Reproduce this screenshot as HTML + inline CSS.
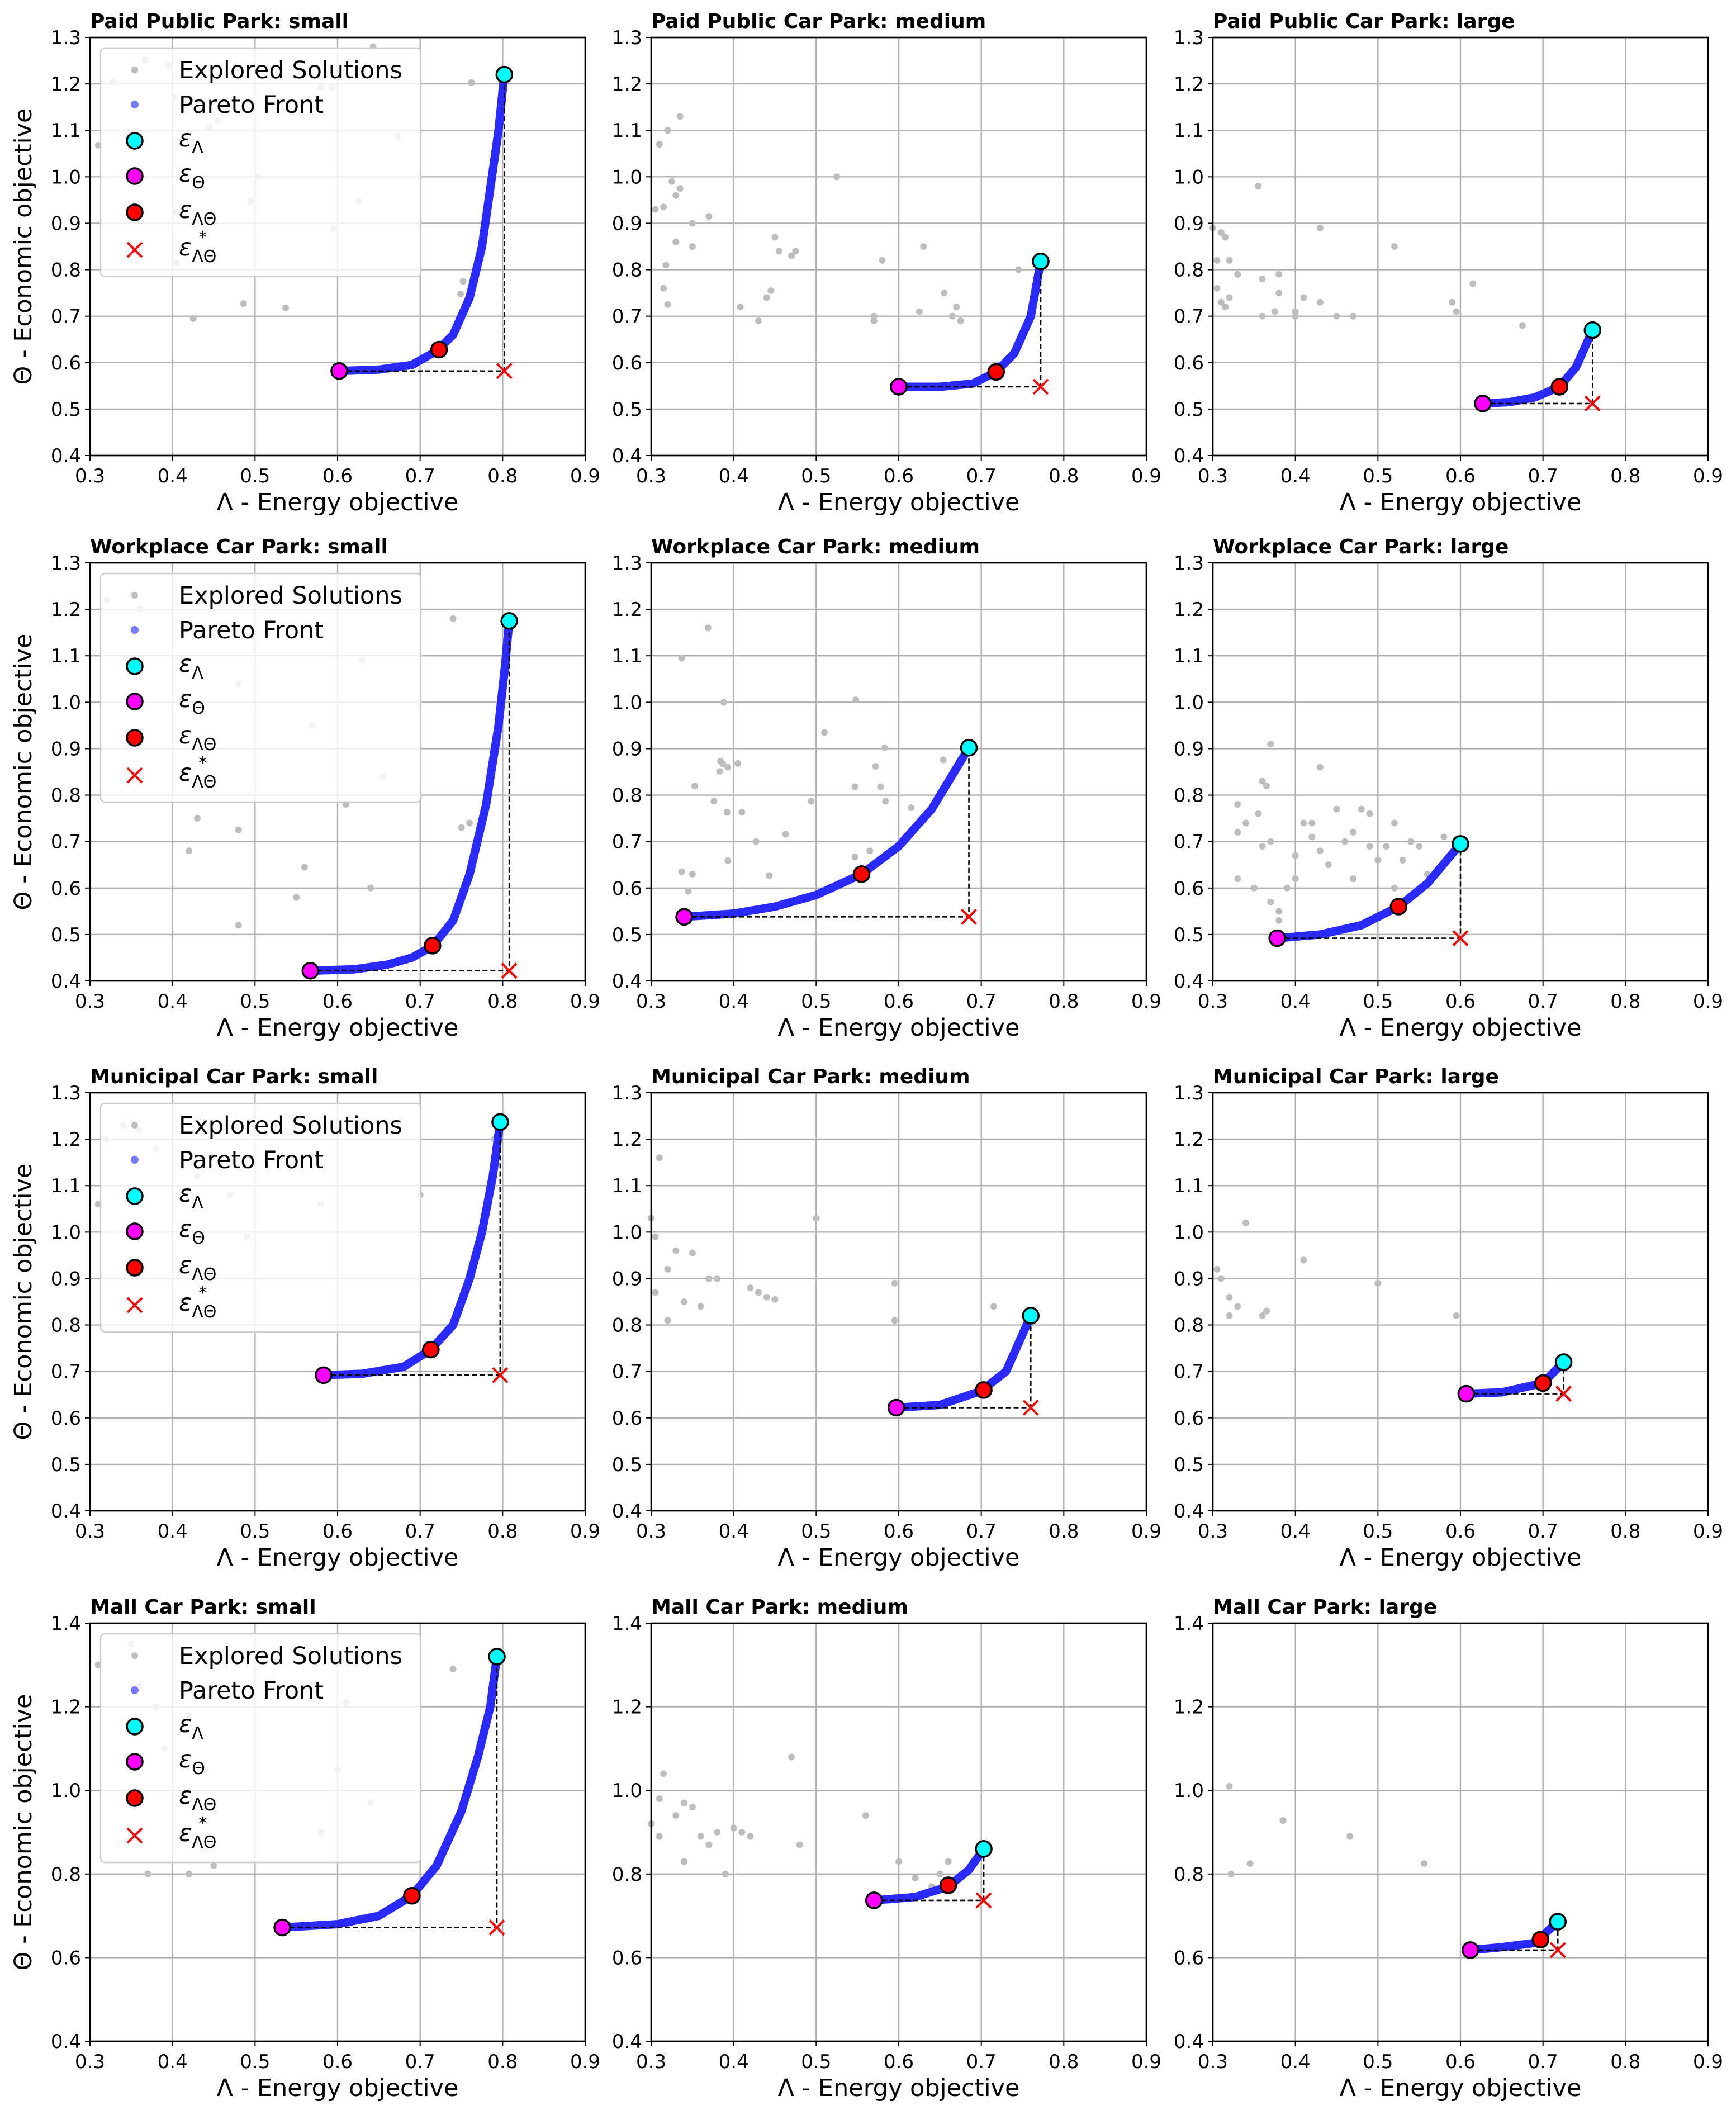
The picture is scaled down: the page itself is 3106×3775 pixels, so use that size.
<!DOCTYPE html>
<html><head><meta charset="utf-8">
<style>
html,body{margin:0;padding:0;background:#fff;}
svg{display:block;font-family:"DejaVu Sans","Liberation Sans",sans-serif;}
</style></head>
<body>
<svg id="chart" xmlns="http://www.w3.org/2000/svg" width="3106" height="3775" viewBox="0 0 3106 3775"></svg>
<script>
// ---- data ----
const titles = ["Paid Public Park: small","Paid Public Car Park: medium","Paid Public Car Park: large",
 "Workplace Car Park: small","Workplace Car Park: medium","Workplace Car Park: large",
 "Municipal Car Park: small","Municipal Car Park: medium","Municipal Car Park: large",
 "Mall Car Park: small","Mall Car Park: medium","Mall Car Park: large"];
const yMaxes = [1.3,1.3,1.3,1.3,1.3,1.3,1.3,1.3,1.3,1.4,1.4,1.4];
const xTicks = [0.3,0.4,0.5,0.6,0.7,0.8,0.9];
const yTicksA = [0.4,0.5,0.6,0.7,0.8,0.9,1.0,1.1,1.2,1.3];
const yTicksB = [0.4,0.6,0.8,1.0,1.2,1.4];
const fronts = [
 [[0.602,0.582],[0.65,0.585],[0.69,0.595],[0.72,0.625],[0.74,0.66],[0.76,0.74],[0.775,0.85],[0.787,1.0],[0.795,1.1],[0.802,1.22]],
 [[0.60,0.548],[0.65,0.548],[0.69,0.555],[0.718,0.58],[0.74,0.62],[0.76,0.70],[0.772,0.818]],
 [[0.627,0.512],[0.66,0.515],[0.69,0.525],[0.72,0.548],[0.74,0.59],[0.76,0.67]],
 [[0.567,0.422],[0.62,0.425],[0.66,0.435],[0.69,0.45],[0.715,0.475],[0.74,0.53],[0.76,0.63],[0.78,0.78],[0.795,0.95],[0.803,1.08],[0.808,1.175]],
 [[0.34,0.538],[0.40,0.545],[0.45,0.56],[0.50,0.585],[0.555,0.63],[0.60,0.69],[0.64,0.77],[0.685,0.902]],
 [[0.378,0.492],[0.43,0.50],[0.48,0.52],[0.525,0.56],[0.56,0.61],[0.60,0.695]],
 [[0.583,0.692],[0.63,0.695],[0.68,0.71],[0.713,0.747],[0.74,0.80],[0.76,0.90],[0.775,1.0],[0.788,1.12],[0.797,1.237]],
 [[0.597,0.622],[0.65,0.628],[0.70,0.658],[0.73,0.70],[0.76,0.82]],
 [[0.607,0.652],[0.65,0.655],[0.70,0.675],[0.725,0.72]],
 [[0.533,0.672],[0.60,0.68],[0.65,0.70],[0.69,0.748],[0.72,0.82],[0.75,0.95],[0.77,1.08],[0.785,1.2],[0.793,1.32]],
 [[0.57,0.737],[0.62,0.745],[0.66,0.77],[0.685,0.81],[0.703,0.86]],
 [[0.612,0.618],[0.65,0.625],[0.69,0.635],[0.718,0.686]]
];
const balanced = [[0.723,0.628],[0.718,0.58],[0.72,0.548],[0.715,0.476],[0.555,0.63],[0.525,0.56],[0.713,0.747],[0.703,0.66],[0.70,0.675],[0.69,0.748],[0.66,0.773],[0.697,0.643]];
const explored = [
 [[0.31,1.068],[0.328,1.205],[0.355,1.228],[0.367,1.252],[0.395,1.24],[0.403,1.17],[0.454,1.122],[0.445,1.105],[0.405,0.925],[0.405,0.815],[0.425,0.695],[0.486,0.727],[0.495,0.947],[0.503,1.0],[0.537,0.718],[0.58,1.193],[0.593,1.193],[0.595,0.888],[0.626,0.947],[0.643,1.28],[0.673,1.088],[0.762,1.203],[0.752,0.775],[0.749,0.748]],
 [[0.31,1.07],[0.32,1.10],[0.335,1.13],[0.305,0.93],[0.315,0.935],[0.325,0.99],[0.33,0.96],[0.335,0.975],[0.318,0.81],[0.315,0.76],[0.32,0.725],[0.33,0.86],[0.35,0.85],[0.35,0.9],[0.37,0.915],[0.408,0.72],[0.43,0.69],[0.44,0.74],[0.445,0.755],[0.45,0.87],[0.455,0.84],[0.47,0.83],[0.475,0.84],[0.525,1.0],[0.58,0.82],[0.57,0.69],[0.57,0.70],[0.63,0.85],[0.625,0.71],[0.655,0.75],[0.665,0.70],[0.675,0.69],[0.67,0.72],[0.745,0.80]],
 [[0.30,0.89],[0.31,0.88],[0.315,0.87],[0.32,0.82],[0.305,0.82],[0.305,0.76],[0.31,0.73],[0.315,0.72],[0.32,0.74],[0.33,0.79],[0.355,0.98],[0.36,0.78],[0.36,0.70],[0.375,0.71],[0.38,0.75],[0.38,0.79],[0.40,0.71],[0.40,0.70],[0.41,0.74],[0.43,0.89],[0.43,0.73],[0.45,0.70],[0.47,0.70],[0.52,0.85],[0.59,0.73],[0.595,0.71],[0.615,0.77],[0.675,0.68]],
 [[0.32,1.22],[0.36,1.20],[0.35,1.23],[0.42,0.68],[0.43,0.75],[0.48,0.725],[0.48,0.52],[0.48,1.04],[0.55,0.58],[0.56,0.645],[0.57,0.95],[0.61,0.78],[0.63,1.09],[0.64,0.60],[0.655,0.84],[0.74,1.18],[0.75,0.73],[0.76,0.74]],
 [[0.337,1.095],[0.369,1.16],[0.337,0.635],[0.353,0.82],[0.376,0.787],[0.384,0.873],[0.387,0.867],[0.383,0.851],[0.388,1.0],[0.393,0.659],[0.392,0.763],[0.393,0.86],[0.405,0.868],[0.41,0.763],[0.427,0.70],[0.443,0.627],[0.463,0.716],[0.35,0.63],[0.345,0.593],[0.494,0.787],[0.51,0.935],[0.548,1.005],[0.547,0.818],[0.547,0.667],[0.565,0.68],[0.572,0.862],[0.578,0.818],[0.583,0.902],[0.584,0.787],[0.615,0.773],[0.654,0.876]],
 [[0.33,0.78],[0.33,0.72],[0.33,0.62],[0.34,0.74],[0.35,0.60],[0.355,0.76],[0.36,0.83],[0.365,0.82],[0.37,0.91],[0.36,0.69],[0.37,0.70],[0.37,0.57],[0.38,0.55],[0.38,0.53],[0.39,0.60],[0.40,0.62],[0.40,0.67],[0.41,0.74],[0.42,0.74],[0.42,0.71],[0.43,0.86],[0.43,0.68],[0.44,0.65],[0.45,0.77],[0.46,0.70],[0.47,0.72],[0.47,0.62],[0.48,0.77],[0.49,0.76],[0.49,0.69],[0.50,0.66],[0.51,0.69],[0.52,0.60],[0.52,0.74],[0.53,0.66],[0.54,0.70],[0.55,0.69],[0.56,0.63],[0.58,0.71]],
 [[0.31,1.06],[0.32,1.20],[0.34,1.23],[0.36,1.22],[0.38,1.18],[0.43,1.12],[0.47,1.08],[0.49,0.99],[0.58,1.06],[0.70,1.08],[0.79,1.20]],
 [[0.30,1.03],[0.305,0.99],[0.31,1.16],[0.305,0.87],[0.32,0.92],[0.33,0.96],[0.34,0.85],[0.35,0.955],[0.36,0.84],[0.37,0.90],[0.38,0.90],[0.42,0.88],[0.43,0.87],[0.44,0.86],[0.45,0.855],[0.50,1.03],[0.595,0.89],[0.595,0.81],[0.715,0.84],[0.32,0.81]],
 [[0.305,0.92],[0.31,0.90],[0.32,0.86],[0.32,0.82],[0.33,0.84],[0.34,1.02],[0.36,0.82],[0.365,0.83],[0.41,0.94],[0.50,0.89],[0.595,0.82]],
 [[0.31,1.30],[0.35,1.35],[0.36,1.25],[0.38,1.20],[0.39,1.10],[0.42,1.18],[0.44,1.05],[0.45,0.95],[0.37,0.80],[0.42,0.80],[0.45,0.82],[0.58,0.90],[0.61,1.21],[0.64,0.97],[0.72,0.83],[0.74,1.29],[0.60,1.05]],
 [[0.30,0.92],[0.31,0.98],[0.315,1.04],[0.31,0.89],[0.33,0.94],[0.34,0.97],[0.34,0.83],[0.35,0.96],[0.36,0.89],[0.37,0.87],[0.38,0.90],[0.39,0.80],[0.40,0.91],[0.41,0.90],[0.42,0.89],[0.47,1.08],[0.48,0.87],[0.56,0.94],[0.60,0.83],[0.62,0.79],[0.64,0.77],[0.65,0.80],[0.66,0.83]],
 [[0.32,1.01],[0.322,0.80],[0.345,0.825],[0.385,0.928],[0.466,0.89],[0.556,0.825]]
];
// ---- drawing ----
const NS="http://www.w3.org/2000/svg";
const svg=document.getElementById('chart');
function mk(tag,attrs,parent){const e=document.createElementNS(NS,tag);for(const k in attrs)e.setAttribute(k,attrs[k]);(parent||svg).appendChild(e);return e;}
const colX=[161,1165,2170], rowY=[67,1007,1955,2904], W=886, H=748;
for(let i=0;i<12;i++){
  const r=Math.floor(i/3), c=i%3, L=colX[c], T=rowY[r];
  const yMax=yMaxes[i], yTicks=yMax>1.35?yTicksB:yTicksA;
  const sx=v=>L+(v-0.3)/0.6*W, sy=v=>T+H-(v-0.4)/(yMax-0.4)*H;
  const g=mk('g',{});
  
  
  xTicks.forEach(t=>{const l=mk('line',{x1:sx(t),x2:sx(t),y1:T,y2:T+H,stroke:'#b0b0b0','stroke-width':2.4},g);
    
    const tx=mk('text',{x:sx(t),y:T+H+48,'font-size':34,'text-anchor':'middle',fill:'#000'},g);tx.textContent=t.toFixed(1);
    
    mk('line',{x1:sx(t),x2:sx(t),y1:T+H,y2:T+H+9,stroke:'#000','stroke-width':2},g);});
  yTicks.forEach(t=>{const l=mk('line',{x1:L,x2:L+W,y1:sy(t),y2:sy(t),stroke:'#b0b0b0','stroke-width':2.4},g);
    
    const tx=mk('text',{x:L-16,y:sy(t)+12,'font-size':34,'text-anchor':'end',fill:'#000'},g);tx.textContent=t.toFixed(1);
    
    mk('line',{x1:L-9,x2:L,y1:sy(t),y2:sy(t),stroke:'#000','stroke-width':2},g);});
  explored[i].forEach(p=>{if(p[1]>yMax||p[0]<0.3)return;const d=mk('circle',{cx:sx(p[0]),cy:sy(p[1]),r:6,fill:'#bdbdbd'},g);
    });
  const fr=fronts[i];
  const pl=mk('polyline',{points:fr.map(p=>sx(p[0])+','+sy(p[1])).join(' '),fill:'none',stroke:'#2a2aff','stroke-width':15,'stroke-linejoin':'round','stroke-linecap':'round'},g);
  
  const a=fr[0], b=fr[fr.length-1];
  const dl=mk('polyline',{points:`${sx(a[0])},${sy(a[1])} ${sx(b[0])},${sy(a[1])} ${sx(b[0])},${sy(b[1])}`,fill:'none',stroke:'#000','stroke-width':2.6,'stroke-dasharray':'9,5'},g);
  
  const m1=mk('circle',{cx:sx(b[0]),cy:sy(b[1]),r:14,fill:'#00ffff',stroke:'#000','stroke-width':3.5},g);
  
  const m2=mk('circle',{cx:sx(a[0]),cy:sy(a[1]),r:14,fill:'#ff00ff',stroke:'#000','stroke-width':3.5},g);
  
  const bp=balanced[i];
  const m3=mk('circle',{cx:sx(bp[0]),cy:sy(bp[1]),r:14,fill:'#ff0000',stroke:'#000','stroke-width':3.5},g);
  
  const X=sx(b[0]),Y=sy(a[1]);
  const xm=mk('path',{d:`M${X-13},${Y-13}L${X+13},${Y+13}M${X-13},${Y+13}L${X+13},${Y-13}`,stroke:'#ff0000','stroke-width':4,fill:'none'},g);
  
  const fr2=mk('rect',{x:L,y:T,width:W,height:H,fill:'none',stroke:'#000','stroke-width':2.6},g);
  
  const tt=mk('text',{x:L,y:T-17,'font-size':36,'font-weight':'bold',fill:'#000'},g);tt.textContent=titles[i];
  
  const xl=mk('text',{x:L+W/2,y:T+H+98,'font-size':43,'text-anchor':'middle',fill:'#000'},g);xl.textContent='Λ - Energy objective';
  
  if(c===0){
    const yl=mk('text',{x:0,y:0,'font-size':43,'text-anchor':'middle',fill:'#000',transform:`translate(56,${T+H/2}) rotate(-90)`},g);yl.textContent='Θ - Economic objective';
    
    const lg=mk('g',{},g);
    
    mk('rect',{x:L+19,y:T+19,width:573,height:409,rx:8,fill:'rgba(255,255,255,0.8)',stroke:'#cccccc','stroke-width':2.4},lg);
    const ys=[58,120,185,248,313,380].map(v=>T+v);
    const mx=L+80, tx=L+159;
    mk('circle',{cx:mx,cy:ys[0],r:6,fill:'#bdbdbd'},lg);
    mk('circle',{cx:mx,cy:ys[1],r:7,fill:'#7777ff'},lg);
    mk('circle',{cx:mx,cy:ys[2],r:14,fill:'#00ffff',stroke:'#000','stroke-width':3.5},lg);
    mk('circle',{cx:mx,cy:ys[3],r:14,fill:'#ff00ff',stroke:'#000','stroke-width':3.5},lg);
    mk('circle',{cx:mx,cy:ys[4],r:14,fill:'#ff0000',stroke:'#000','stroke-width':3.5},lg);
    mk('path',{d:`M${mx-13},${ys[5]-13}L${mx+13},${ys[5]+13}M${mx-13},${ys[5]+13}L${mx+13},${ys[5]-13}`,stroke:'#ff0000','stroke-width':4},lg);
    const labels=['Explored Solutions','Pareto Front'];
    labels.forEach((s,k)=>{const t=mk('text',{x:tx,y:ys[k]+15,'font-size':43,fill:'#000'},lg);t.textContent=s;
      });
    const subs=['Λ','Θ','ΛΘ','ΛΘ'];
    subs.forEach((s,k)=>{const t=mk('text',{x:tx,y:ys[k+2]+10,'font-size':43,'font-style':'italic',fill:'#000'},lg);
      
      const e=mk('tspan',{},t);e.textContent='ε';
      const sb=mk('tspan',{'font-size':30,'font-style':'normal',dy:12},t);sb.textContent=s;
      if(k===3){const st=mk('tspan',{'font-size':30,'font-style':'normal',dx:-32,dy:-34},t);st.textContent='*';}
    });
  }
}
</script>
</body></html>
